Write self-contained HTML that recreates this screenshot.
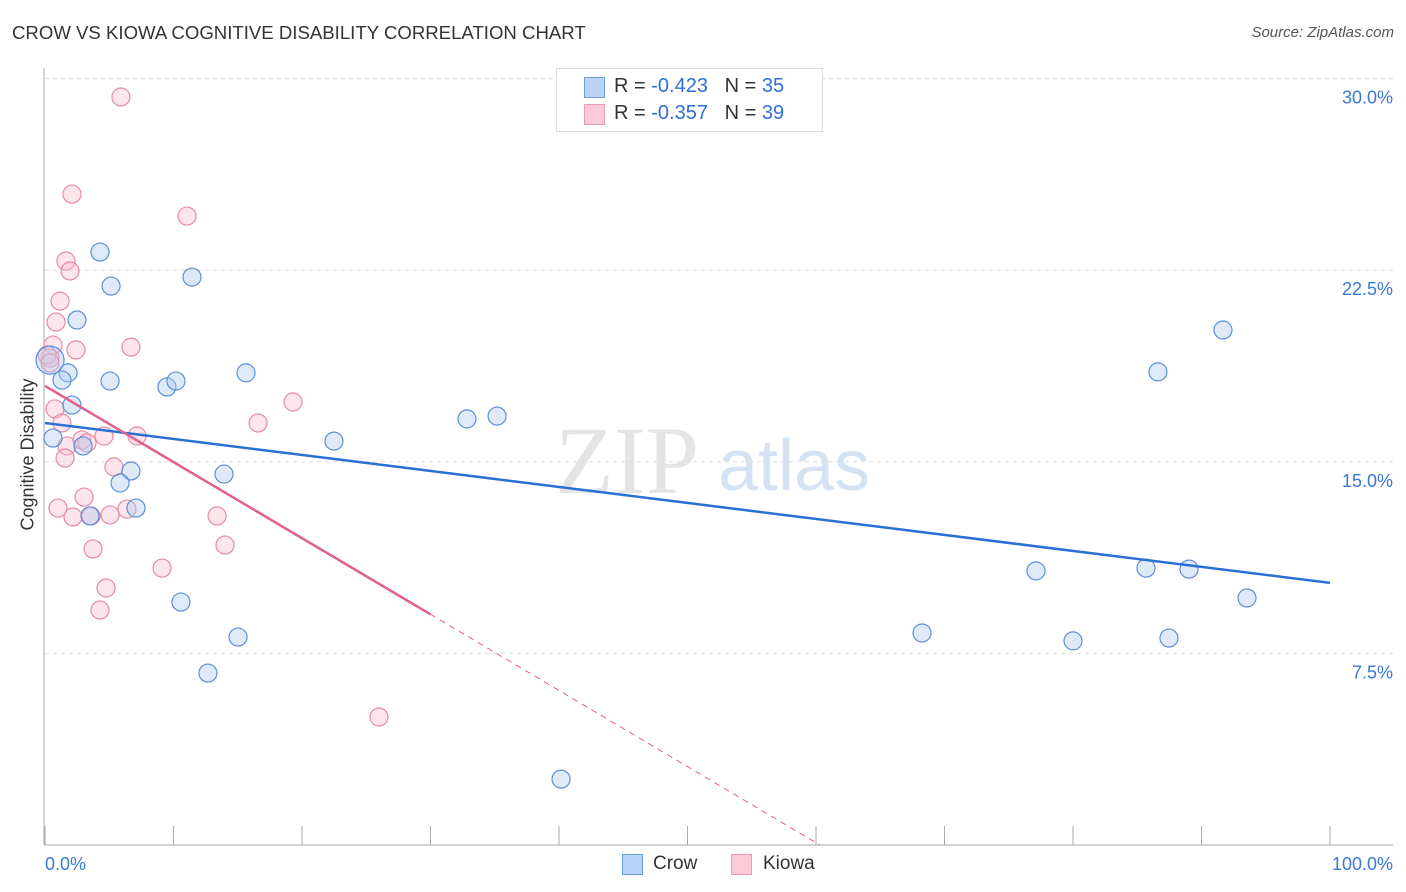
<!DOCTYPE html>
<html><head><meta charset="utf-8"><style>
body{margin:0;background:#fff;font-family:"Liberation Sans",sans-serif;}
#wrap{position:relative;width:1406px;height:892px;overflow:hidden;}
.t{position:absolute;white-space:nowrap;}
</style></head><body>
<div id="wrap">
<div class="t" style="left:12px;top:22px;font-size:18.6px;color:#333;">CROW VS KIOWA COGNITIVE DISABILITY CORRELATION CHART</div>
<div class="t" style="right:12px;top:24px;font-size:15px;color:#555;font-style:italic;">Source: ZipAtlas.com</div>
<div class="t" style="left:-47px;top:445px;font-size:18px;color:#333;transform:rotate(-90deg);transform-origin:center;width:150px;text-align:center;">Cognitive Disability</div>
<svg id="svg" width="1406" height="892" style="position:absolute;left:0;top:0">
<text x="555" y="493" font-family="Liberation Serif,serif" font-size="96" fill="#e4e4e4">ZIP</text>
<text x="718" y="490" font-family="Liberation Sans,sans-serif" font-size="72" fill="#d4e2f4">atlas</text>
</svg>
<div style="position:absolute;left:556px;top:68px;width:265px;height:62px;border:1px solid #ddd;background:#fff;">
<div style="position:absolute;left:27px;top:8px;width:19px;height:19px;background:#b8d3f5;border:1px solid #6a9ee0;"></div>
<div class="t" style="left:57px;top:6px;font-size:20px;color:#333;">R = <span style="color:#2f6fd6">-0.423</span>&nbsp;&nbsp;&nbsp;N = <span style="color:#2f6fd6">35</span></div>
<div style="position:absolute;left:27px;top:35px;width:19px;height:19px;background:#fbcad8;border:1px solid #eb9ab4;"></div>
<div class="t" style="left:57px;top:33px;font-size:20px;color:#333;">R = <span style="color:#2f6fd6">-0.357</span>&nbsp;&nbsp;&nbsp;N = <span style="color:#2f6fd6">39</span></div>
</div>
<div style="position:absolute;left:622px;top:854px;width:19px;height:19px;background:#b8d3f5;border:1px solid #6a9ee0;"></div>
<div class="t" style="left:653px;top:853px;font-size:19px;color:#333;">Crow</div>
<div style="position:absolute;left:731px;top:854px;width:19px;height:19px;background:#fbcad8;border:1px solid #eb9ab4;"></div>
<div class="t" style="left:763px;top:853px;font-size:19px;color:#333;">Kiowa</div>
</div>
<script>
const yTicks=[7.5,15,22.5,30];
const yTickLabels=["7.5%","15.0%","22.5%","30.0%"];
const xTickLabels=["0.0%","100.0%"];
const crowX=[4.28,5.14,11.44,2.49,1.79,1.32,5.06,9.49,10.19,15.64,2.10,0.62,2.96,6.69,5.84,13.93,3.50,7.08,22.49,32.84,35.18,10.58,15.02,12.68,40.16,91.67,86.61,77.12,85.68,89.03,93.54,68.25,80.00,87.47,0.39];
const crowY=[23.21,21.88,22.23,20.55,18.48,18.20,18.16,17.93,18.16,18.48,17.22,15.93,15.62,14.64,14.17,14.52,12.88,13.19,15.81,16.68,16.79,9.51,8.14,6.73,2.58,20.16,18.52,10.73,10.84,10.80,9.67,8.30,7.99,8.10,18.98];
const kiowaX=[5.91,2.10,11.05,1.63,1.95,1.17,0.86,0.62,2.41,6.69,0.78,1.32,19.30,16.58,1.71,2.88,3.27,4.59,7.16,1.56,5.37,3.04,1.01,6.38,2.18,3.58,5.06,13.39,14.01,3.74,9.11,4.75,4.28,25.99,0.39,0.16,0.39];
const kiowaY=[29.28,25.48,24.62,22.86,22.47,21.29,20.47,19.57,19.38,19.49,17.07,16.52,17.34,16.52,15.62,15.85,15.74,16.01,16.01,15.15,14.80,13.62,13.19,13.15,12.84,12.88,12.92,12.88,11.74,11.59,10.84,10.06,9.20,5.01,19.06,19.18,18.87];
const crowTrend=[16.52,-0.0626];
const kiowaTrend=[17.97,-0.298];
const X0=45,X1=1330,Y0=845,PPU=191.6/7.5;
const sx=v=>X0+(X1-X0)*v/100, sy=v=>Y0-v*PPU;
const svg=document.getElementById('svg');const NS='http://www.w3.org/2000/svg';
function mk(tag,a){const e=document.createElementNS(NS,tag);for(const k in a)e.setAttribute(k,a[k]);svg.appendChild(e);return e;}
yTicks.forEach((t,i)=>{
 const g=mk('line',{x1:45,x2:1393,y1:sy(t),y2:sy(t),stroke:'#ddd','stroke-dasharray':'4,4'});
 
 
 const l=mk('text',{x:1393,y:sy(t)+25,'text-anchor':'end','font-size':18,fill:'#3a78d8','font-family':'Liberation Sans,sans-serif'});
 l.textContent=yTickLabels[i];
 
 
});
const ax=mk('line',{x1:44,x2:44,y1:68,y2:845,stroke:'#aaa'});


const bx=mk('line',{x1:44,x2:1393,y1:845,y2:845,stroke:'#aaa'});


for(let i=0;i<=10;i++){const tk=mk('line',{x1:sx(i*10),x2:sx(i*10),y1:826,y2:845,stroke:'#aaa'});
 
 }
[[0,'start',45],[1,'end',1393]].forEach(([i,a,x])=>{const l=mk('text',{x:x,y:870,'text-anchor':a,'font-size':18,fill:'#3a78d8','font-family':'Liberation Sans,sans-serif'});
 l.textContent=xTickLabels[i];
 
 });
function pts(xs,ys,fill,stroke,name){xs.forEach((x,i)=>{const big=(name==='crow-point'&&i===xs.length-1);
 const c=mk('circle',{cx:sx(x),cy:sy(ys[i]),r:big?14:9,fill:fill,'fill-opacity':0.4,stroke:stroke,'stroke-width':1.2});
 
 });}
pts(kiowaX,kiowaY,'#f9bfd0','#e68aa8','kiowa-point');
pts(crowX,crowY,'#aecbf0','#5b8fd9','crow-point');
const bl=mk('line',{x1:sx(0),y1:sy(crowTrend[0]),x2:sx(100),y2:sy(crowTrend[0]+crowTrend[1]*100),stroke:'#2a6fd6','stroke-width':2.5});


const xe=30, xz=-kiowaTrend[0]/kiowaTrend[1];
const pl=mk('line',{x1:sx(0),y1:sy(kiowaTrend[0]),x2:sx(xe),y2:sy(kiowaTrend[0]+kiowaTrend[1]*xe),stroke:'#e2608e','stroke-width':2.5});


const pd=mk('line',{x1:sx(xe),y1:sy(kiowaTrend[0]+kiowaTrend[1]*xe),x2:sx(xz),y2:sy(0),stroke:'#e2608e','stroke-width':1,'stroke-dasharray':'6,5'});


</script>
</body></html>
